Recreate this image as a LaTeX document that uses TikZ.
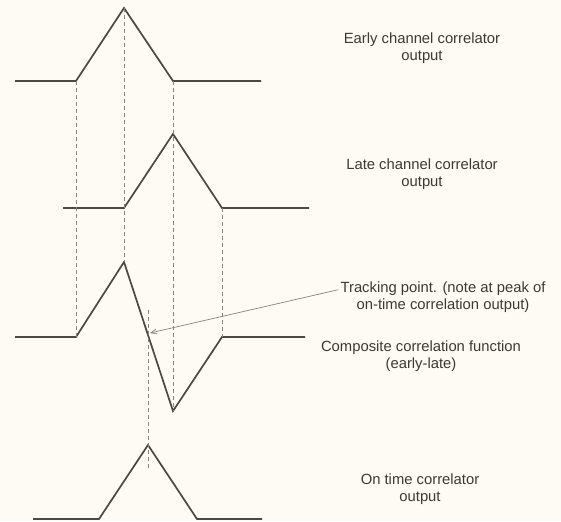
\documentclass[tikz,border=0pt]{standalone}
\usepackage{fontspec}
\setmainfont{Liberation Sans}
\usetikzlibrary{arrows.meta}
\definecolor{paper}{HTML}{FDFBF3}
\definecolor{ink}{HTML}{4A4A42}
\definecolor{guide}{HTML}{85857B}
\definecolor{txt}{HTML}{3A3A34}

\begin{document}
\begin{tikzpicture}[x=1pt,y=-1pt,font=\fontsize{14.8}{17}\selectfont,
  wave/.style={draw=ink,line width=1.7pt,line join=miter},
  vline/.style={draw=guide,line width=0.85pt,dash pattern=on 4pt off 3pt},
  lbl/.style={align=center,text=txt,inner sep=2pt}]
  \fill[paper] (0,0) rectangle (561,521);
  % early channel
  \draw[wave] (15,81) -- (76,81) coordinate (e1) -- (124,8) coordinate (e2)
    -- (173,81) coordinate (e3) -- (261,81);
  % late channel
  \draw[wave] (63,208) -- (124,208) -- (173,134) -- (222,208) coordinate (l3) -- (309,208);
  % composite
  \draw[wave] (15,337) -- (76,337) coordinate (c1) -- (124,262) coordinate (c2)
    -- (173,411) coordinate (c3) -- (222,337) coordinate (c4) -- (305,337);
  % on time
  \draw[wave] (33,519) -- (99,519) -- (148,445) coordinate (o1) -- (197,519) -- (262,519);
  % alignment guides
  \draw[vline] (e1) -- (c1);
  \draw[vline] (e2) -- (c2);
  \draw[vline] (e3) -- (c3);
  \draw[vline] (l3) -- (c4);
  \coordinate (g1) at (148,310);
  \coordinate (g2) at (148,468);
  \draw[vline] (g1) -- (g2);
  \coordinate (tp) at (150,333);
  % labels
  \node[lbl] (early) at (422,48) {Early channel correlator\\output};
  \node[lbl] (late) at (422,174) {Late channel correlator\\output};
  \node[lbl] (trk) at (443,297) {Tracking point. (note at peak of\\on-time correlation output)};
  \node[lbl] (comp) at (421,356) {Composite correlation function\\(early-late)};
  \node[lbl] (ontime) at (420,489) {On time correlator\\output};
  \draw[guide,line width=0.7pt,-{Straight Barb[length=6pt,width=5pt]}] (trk.176) -- (tp);
\end{tikzpicture}
\end{document}
